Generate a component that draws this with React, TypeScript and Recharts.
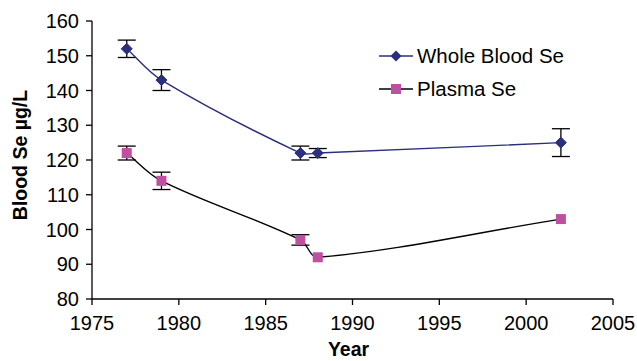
import React from 'react';
import { LineChart, Line, XAxis, YAxis, ErrorBar, Label } from 'recharts';

const years = [1977, 1979, 1987, 1988, 2002];
const wholeBlood = [152, 143, 122, 122, 125];
const wholeBloodErr = [2.5, 3, 2, 1.3, 4];
const plasma = [122, 114, 97, 92, 103];
const plasmaErr = [2, 2.5, 1.5, 0, 0];
const xTicks = [1975, 1980, 1985, 1990, 1995, 2000, 2005];
const yTicks = [80, 90, 100, 110, 120, 130, 140, 150, 160];
const seriesNames = ['Whole Blood Se', 'Plasma Se'];

const data = years.map((y, i) => ({
  year: y,
  wb: wholeBlood[i],
  wbErr: wholeBloodErr[i],
  pl: plasma[i],
  plErr: plasmaErr[i],
}));

const NAVY = '#2B2F80';
const PINK = '#BF4FA0';
const FONT = '"Liberation Sans", Arial, sans-serif';

// Excel-like smoothed line: Bezier segments with tangent handles proportional to segment lengths
const smoothCurve: any = (context: any) => {
  let pts: number[][] = [];
  return {
    areaStart() {},
    areaEnd() {},
    lineStart() {
      pts = [];
    },
    point(x: number, y: number) {
      pts.push([+x, +y]);
    },
    lineEnd() {
      const n = pts.length;
      if (!n) return;
      context.moveTo(pts[0][0], pts[0][1]);
      if (n === 1) return;
      const t = 1 / 3;
      const dist = (a: number[], b: number[]) => Math.hypot(b[0] - a[0], b[1] - a[1]);
      for (let i = 0; i < n - 1; i++) {
        const p0 = pts[i - 1] || pts[i];
        const p1 = pts[i];
        const p2 = pts[i + 1];
        const p3 = pts[i + 2] || pts[i + 1];
        const d01 = dist(p0, p1);
        const d12 = dist(p1, p2);
        const d23 = dist(p2, p3);
        const f1 = (d12 / (d01 + d12 || 1)) * t;
        const f2 = (d12 / (d12 + d23 || 1)) * t;
        const c1x = p1[0] + (p2[0] - p0[0]) * f1;
        const c1y = p1[1] + (p2[1] - p0[1]) * f1;
        const c2x = p2[0] - (p3[0] - p1[0]) * f2;
        const c2y = p2[1] - (p3[1] - p1[1]) * f2;
        context.bezierCurveTo(c1x, c1y, c2x, c2y, p2[0], p2[1]);
      }
    },
  };
};

const Diamond = (props: any) => {
  const { cx, cy, key } = props;
  if (cx == null || cy == null) return null;
  const r = 5.5;
  return (
    <path
      key={key}
      d={`M${cx},${cy - r}L${cx + r},${cy}L${cx},${cy + r}L${cx - r},${cy}Z`}
      fill={NAVY}
      stroke={NAVY}
    />
  );
};

const Square = (props: any) => {
  const { cx, cy, key } = props;
  if (cx == null || cy == null) return null;
  const s = 10;
  return <rect key={key} x={cx - s / 2} y={cy - s / 2} width={s} height={s} fill={PINK} />;
};

const YLabel = (props: any) => {
  const vb = props.viewBox || { x: 0, y: 0, width: 0, height: 0 };
  const x = vb.x + 20;
  const y = vb.y + vb.height / 2 - 5;
  return (
    <text
      x={x}
      y={y}
      transform={`rotate(-90, ${x}, ${y})`}
      textAnchor="middle"
      dominantBaseline="central"
      fontFamily={FONT}
      fontWeight="bold"
      fontSize={19.5}
      fill="#000"
    >
      Blood Se µg/L
    </text>
  );
};

const XLabel = (props: any) => {
  const vb = props.viewBox || { x: 0, y: 0, width: 0, height: 0 };
  const x = vb.x + vb.width / 2 - 4;
  const y = vb.y + 57;
  return (
    <text
      x={x}
      y={y}
      textAnchor="middle"
      fontFamily={FONT}
      fontWeight="bold"
      fontSize={19.5}
      fill="#000"
    >
      Year
    </text>
  );
};

const LegendRow = ({ name, lineColor, marker }: { name: string; lineColor: string; marker: 'diamond' | 'square' }) => (
  <div style={{ display: 'flex', alignItems: 'center', height: 33 }}>
    <svg width={38} height={14} style={{ display: 'block' }}>
      <line x1={0} y1={7} x2={34} y2={7} stroke={lineColor} strokeWidth={1.4} />
      {marker === 'diamond' ? (
        <path d="M17,1.5L22.5,7L17,12.5L11.5,7Z" fill={NAVY} />
      ) : (
        <rect x={12} y={2} width={10} height={10} fill={PINK} />
      )}
    </svg>
    <span style={{ fontFamily: FONT, fontSize: 20.5, color: '#000', lineHeight: '20px' }}>{name}</span>
  </div>
);

export default function App() {
  return (
    <div style={{ position: 'absolute', left: 0, top: 0, width: 637, height: 361, background: '#fff' }}>
      <LineChart width={637} height={361} data={data} margin={{ top: 21, right: 24, left: 0, bottom: 0 }}>
        <XAxis
          dataKey="year"
          type="number"
          domain={[1975, 2005]}
          ticks={xTicks}
          interval={0}
          allowDataOverflow
          height={62}
          stroke="#000"
          strokeWidth={1.3}
          tickSize={6}
          tickMargin={11}
          tick={{ fill: '#000', fontSize: 20, fontFamily: FONT }}
        >
          <Label content={<XLabel />} />
        </XAxis>
        <YAxis
          type="number"
          domain={[80, 160]}
          ticks={yTicks}
          interval={0}
          width={92}
          stroke="#000"
          strokeWidth={1.3}
          tickSize={6}
          tickMargin={7}
          tick={{ fill: '#000', fontSize: 20, fontFamily: FONT }}
        >
          <Label content={<YLabel />} />
        </YAxis>
        <Line
          dataKey="wb"
          type={smoothCurve}
          stroke={NAVY}
          strokeWidth={1.4}
          dot={<Diamond />}
          activeDot={false}
          isAnimationActive={false}
        >
          <ErrorBar dataKey="wbErr" direction="y" width={9} stroke="#000" strokeWidth={1.3} />
        </Line>
        <Line
          dataKey="pl"
          type={smoothCurve}
          stroke="#000"
          strokeWidth={1.4}
          dot={<Square />}
          activeDot={false}
          isAnimationActive={false}
        >
          <ErrorBar dataKey="plErr" direction="y" width={9} stroke="#000" strokeWidth={1.3} />
        </Line>
      </LineChart>
      <div style={{ position: 'absolute', left: 379, top: 39 }}>
        <LegendRow name={seriesNames[0]} lineColor={NAVY} marker="diamond" />
        <LegendRow name={seriesNames[1]} lineColor="#000" marker="square" />
      </div>
    </div>
  );
}
